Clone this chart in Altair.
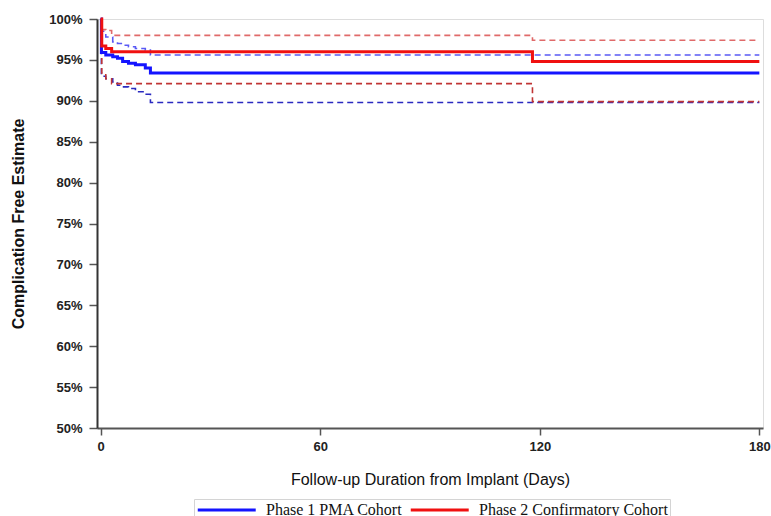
import altair as alt
import pandas as pd

# ---- data ----
blue_t   = [0, 0.2, 1.4, 3.3, 4.6, 6.0, 7.6, 9.5, 12.2, 13.6, 180]
blue_est = [1.0, 0.959, 0.956, 0.954, 0.952, 0.948, 0.946, 0.944, 0.940, 0.934, 0.934]
blue_up  = [1.0, 0.985, 0.978, 0.972, 0.970, 0.968, 0.966, 0.964, 0.962, 0.956, 0.956]
blue_lo  = [1.0, 0.930, 0.927, 0.923, 0.919, 0.917, 0.915, 0.911, 0.908, 0.898, 0.898]

red_t   = [0, 0.3, 1.4, 3.0, 118, 180]
red_est = [1.0, 0.967, 0.964, 0.960, 0.948, 0.948]
red_up  = [1.0, 0.987, 0.986, 0.980, 0.974, 0.974]
red_lo  = [1.0, 0.934, 0.927, 0.921, 0.899, 0.899]

cohorts = ["Phase 1 PMA Cohort", "Phase 2 Confirmatory Cohort"]
colors = ["#1414ff", "#f01010"]
ci_keys = ["P1 upper", "P1 lower", "P2 upper", "P2 lower"]
ci_colors = ["#5a5af5", "#2a2ac0", "#e06a6a", "#c03434"]

y_ticks = [0.5, 0.55, 0.6, 0.65, 0.7, 0.75, 0.8, 0.85, 0.9, 0.95, 1.0]
x_ticks = [0, 60, 120, 180]

rows = []
for c, key, t, est, up, lo in [(cohorts[0], "P1", blue_t, blue_est, blue_up, blue_lo),
                               (cohorts[1], "P2", red_t, red_est, red_up, red_lo)]:
    for i in range(len(t)):
        rows.append(dict(cohort=c, band="est", key=key + " est", day=t[i], val=est[i]))
        rows.append(dict(cohort=c, band="upper", key=key + " upper", day=t[i], val=up[i]))
        rows.append(dict(cohort=c, band="lower", key=key + " lower", day=t[i], val=lo[i]))
df = pd.DataFrame(rows)

AX_FONT = "Liberation Sans, Arial, sans-serif"

x = alt.X("day:Q", scale=alt.Scale(domain=[-1, 181], nice=False, zero=False),
          axis=alt.Axis(values=x_ticks, title="Follow-up Duration from Implant (Days)",
                        grid=False, domainColor="#555", domainWidth=2,
                        tickColor="#555", tickSize=7, tickWidth=1.5,
                        labelFont=AX_FONT, labelFontSize=13, labelFontWeight="bold",
                        labelColor="#222", labelPadding=5,
                        titleFont=AX_FONT, titleFontSize=16, titleFontWeight="normal",
                        titleColor="#111", titlePadding=18))
y = alt.Y("val:Q", scale=alt.Scale(domain=[0.5, 1.0], nice=False, zero=False),
          axis=alt.Axis(values=y_ticks, format=".0%", title="Complication Free Estimate",
                        grid=False, domainColor="#333", domainWidth=2,
                        tickColor="#555", tickSize=8, tickWidth=1.5,
                        labelFont=AX_FONT, labelFontSize=13, labelFontWeight="bold",
                        labelColor="#222", labelPadding=7,
                        titleFont=AX_FONT, titleFontSize=16, titleFontWeight="bold",
                        titleColor="#111", titlePadding=22))

color = alt.Color("cohort:N", scale=alt.Scale(domain=cohorts, range=colors),
                  legend=alt.Legend(title=None, orient="none", direction="horizontal",
                                    legendX=97, legendY=480,
                                    symbolType="M-1,0H7", symbolSize=210,
                                    symbolStrokeWidth=3, columnPadding=1,
                                    labelFont="Liberation Serif, Times New Roman, serif",
                                    labelFontSize=16, labelColor="#111", labelOffset=52,
                                    labelLimit=400,
                                    strokeColor="#d4d4d4", fillColor="white", padding=2))

ci = alt.Chart(df).transform_filter(alt.datum.band != "est").mark_line(
    interpolate="step-after", strokeWidth=1.6, strokeDash=[6, 4]
).encode(
    x=x, y=y,
    color=alt.Color("key:N", scale=alt.Scale(domain=ci_keys, range=ci_colors), legend=None),
)

est = alt.Chart(df).transform_filter(alt.datum.band == "est").mark_line(
    interpolate="step-after", strokeWidth=3
).encode(x=x, y=y, color=color)

chart = alt.layer(ci, est).resolve_scale(color="independent").properties(
    width=666, height=409,
    autosize=alt.AutoSizeParams(type="none"),
    padding={"left": 97, "top": 19, "right": 8, "bottom": 88},
).configure_view(stroke=None).configure(background="white")

chart.save("out.html", embed_options={"renderer": "svg", "actions": False})
